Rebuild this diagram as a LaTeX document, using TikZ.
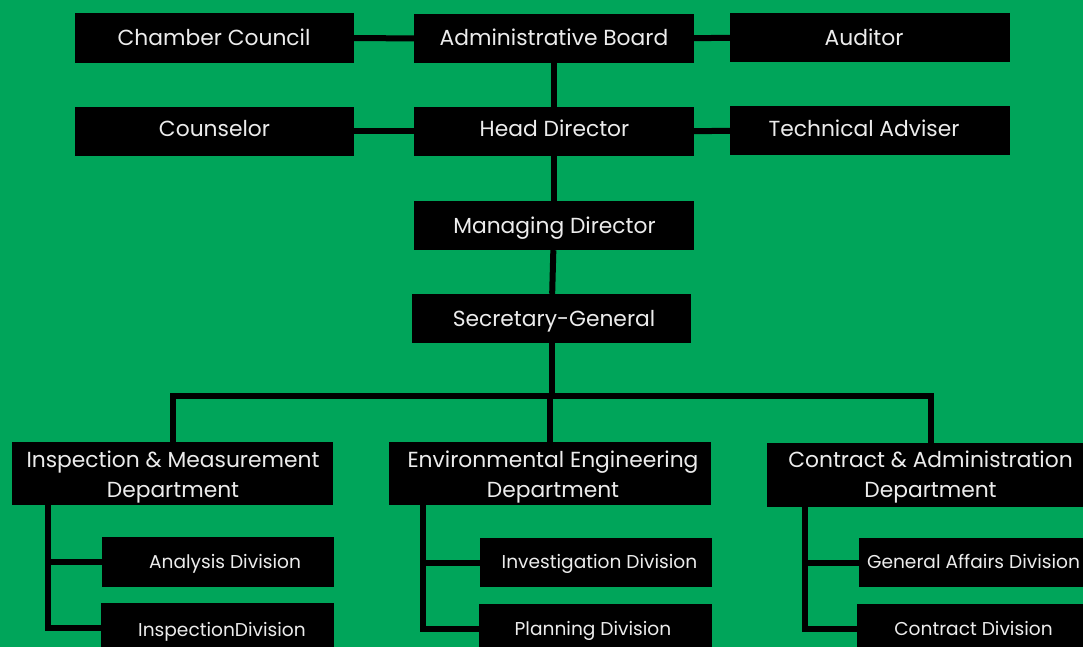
\documentclass[tikz,border=0pt]{standalone}
\usepackage{fontspec}
\setmainfont{Poppins}
\usetikzlibrary{backgrounds}
\definecolor{bggreen}{RGB}{0,165,90}
\definecolor{txtc}{RGB}{236,236,236}
\tikzset{
  box/.style={fill=black, draw=none, inner sep=0pt},
  lbl/.style={text=txtc, font=\fontsize{21.8}{30}\selectfont, align=center, inner sep=0pt, anchor=base},
  slbl/.style={text=txtc, font=\fontsize{18.6}{22}\selectfont, inner sep=0pt, anchor=base},
  conn/.style={line width=6pt, draw=black},
}
\newcommand\orgbox[5]{\node[box, minimum width={#4-#2}, minimum height={#5-#3}] (#1) at ({(#2+#4)/2},{(#3+#5)/2}) {};}
\begin{document}
\begin{tikzpicture}[x=1pt,y=-1pt]
\clip (0,0) rectangle (1083,647);
% boxes
\orgbox{cc}{75}{13}{354}{63}
\orgbox{ab}{414}{14}{694}{63}
\orgbox{au}{730}{13}{1010}{62}
\orgbox{co}{75}{107}{354}{156}
\orgbox{hd}{414}{107}{694}{156}
\orgbox{ta}{730}{106}{1010}{155}
\orgbox{md}{414}{201}{694}{250}
\orgbox{sg}{412}{294}{691}{343}
\orgbox{d1}{12}{442}{333}{505}
\orgbox{d2}{389}{442}{711}{505}
\orgbox{d3}{767}{443}{1094}{507}
\orgbox{a1}{102}{537}{334}{587}
\orgbox{a2}{101}{603}{334}{653}
\orgbox{b1}{480}{538}{712}{587}
\orgbox{b2}{479}{604}{712}{654}
\orgbox{c1}{859}{538}{1091}{587}
\orgbox{c2}{857}{604}{1089}{654}
% labels
\node[lbl] (cct) at (214,46) {Chamber Council};
\node[lbl] (abt) at (554,46) {Administrative Board};
\node[lbl] (aut) at (864,46) {Auditor};
\node[lbl] (cot) at (214.5,137) {Counselor};
\node[lbl] (hdt) at (554.5,137) {Head Director};
\node[lbl] (tat) at (864,137) {Technical Adviser};
\node[lbl] (mdt) at (554.5,233) {Managing Director};
\node[lbl] (sgt) at (554,326) {Secretary-General};
\node[lbl] (d1t) at (173,497) {Inspection \& Measurement\\Department};
\node[lbl] (d2t) at (553,497) {Environmental Engineering\\Department};
\node[lbl] (d3t) at (930.5,497) {Contract \& Administration\\Department};
\node[slbl] (a1t) at (225,568) {Analysis Division};
\node[slbl] (a2t) at (222,636) {InspectionDivision};
\node[slbl] (b1t) at (599.5,568) {Investigation Division};
\node[slbl] (b2t) at (593,635) {Planning Division};
\node[slbl] (c1t) at (973.5,568) {General Affairs Division};
\node[slbl] (c2t) at (973.5,635) {Contract Division};
\coordinate (bar) at (550,396);
\begin{pgfonlayer}{background}
\fill[bggreen] (0,0) rectangle (1083,647);
\draw[conn] (cc) -- (ab);
\draw[conn] (ab) -- (au);
\draw[conn] (co) -- (hd);
\draw[conn] (hd) -- (ta);
\draw[conn] (ab) -- (hd);
\draw[conn] (hd) -- (md);
\draw[conn] (md) -- (sg);
\draw[conn] (sg) -- (sg |- bar);
\draw[conn] (d1.north) |- (bar) -| (d3.north);
\draw[conn] (bar) -- (d2.north);
\draw[conn] ([xshift=36pt]d1.south west) |- (a1.west);
\draw[conn] ([xshift=36pt]d1.south west) |- (a2.west);
\draw[conn] ([xshift=34pt]d2.south west) |- (b1.west);
\draw[conn] ([xshift=34pt]d2.south west) |- (b2.west);
\draw[conn] ([xshift=38pt]d3.south west) |- (c1.west);
\draw[conn] ([xshift=38pt]d3.south west) |- (c2.west);
\end{pgfonlayer}
\end{tikzpicture}
\end{document}
